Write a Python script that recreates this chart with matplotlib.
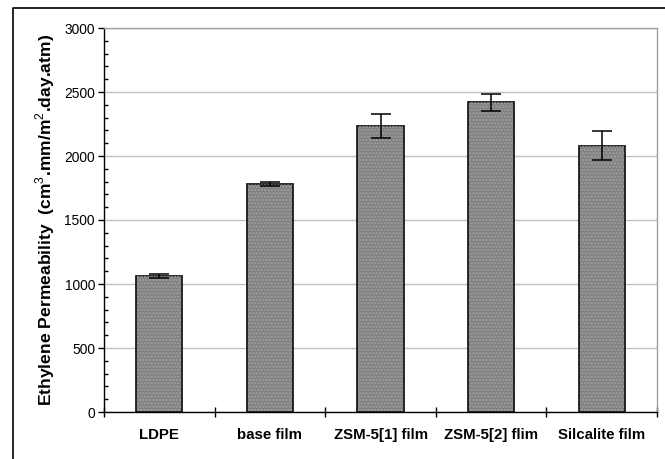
import matplotlib
matplotlib.use("Agg")
import matplotlib.pyplot as plt
from matplotlib.lines import Line2D
from matplotlib.ticker import MultipleLocator, FixedLocator, NullFormatter
import numpy as np

plt.rcParams['font.family'] = ['Liberation Sans', 'DejaVu Sans']
plt.rcParams['mathtext.fontset'] = 'custom'
plt.rcParams['mathtext.rm'] = 'Liberation Sans'
plt.rcParams['mathtext.bf'] = 'Liberation Sans:bold'
plt.rcParams['hatch.linewidth'] = 1.2

films = ['LDPE', 'base film', 'ZSM-5[1] film', 'ZSM-5[2] flim', 'Silcalite film']
permeability = [1060, 1780, 2237, 2420, 2080]
perm_err = [15, 18, 95, 68, 115]

W, H = 665, 459
fig = plt.figure(figsize=(W / 100, H / 100), dpi=100)
ax = fig.add_axes([104 / W, 1 - 412 / H, (657 - 104) / W, (412 - 28) / H])

x = np.arange(len(films))
ax.bar(x, permeability, width=0.416, color='#808080', edgecolor='#1a1a1a',
       linewidth=1.3, zorder=2)
# dotted texture over the gray fill
ax.bar(x, permeability, width=0.40, color='none', edgecolor='#a0a0a0',
       hatch='.....', linewidth=0, zorder=2.5)
ax.errorbar(x, permeability, yerr=perm_err, fmt='none', ecolor='black',
            elinewidth=1.1, capsize=7.2, capthick=1.1, zorder=3)

ax.set_xlim(-0.5, len(films) - 0.5)
ax.set_ylim(0, 3000)
ax.yaxis.set_major_locator(MultipleLocator(500))
ax.yaxis.set_minor_locator(MultipleLocator(100))
ax.grid(axis='y', which='major', color='#c0c0c0', linewidth=1.0, zorder=0)
ax.set_axisbelow(True)

# category separators as major ticks, names on minor ticks
ax.xaxis.set_major_locator(FixedLocator(np.arange(len(films) + 1) - 0.5))
ax.xaxis.set_major_formatter(NullFormatter())
ax.xaxis.set_minor_locator(FixedLocator(x))
ax.set_xticklabels(films, minor=True, fontweight='bold', fontsize=10.8)
ax.tick_params(axis='x', which='major', direction='inout', length=7, width=1)
ax.tick_params(axis='x', which='minor', length=0, pad=11.5)
ax.tick_params(axis='y', which='major', direction='out', length=4.5, width=1,
               labelsize=9.9, pad=2)
ax.tick_params(axis='y', which='minor', direction='in', length=3, width=1)

for side in ('left', 'bottom'):
    ax.spines[side].set_color('black')
    ax.spines[side].set_linewidth(1.0)
for side in ('top', 'right'):
    ax.spines[side].set_color('#a0a0a0')
    ax.spines[side].set_linewidth(1.0)

ax.set_ylabel(r'Ethylene Permeability  (cm$^{3}$.mm/m$^{2}$.day.atm)',
              fontweight='bold', fontsize=12.6, labelpad=5)

# outer chart frame
fig.add_artist(Line2D([13 / W, 13 / W, 1], [0, 1 - 8 / H, 1 - 8 / H],
                      transform=fig.transFigure, color='black', linewidth=1.2))

fig.savefig('out.png', dpi=100)
